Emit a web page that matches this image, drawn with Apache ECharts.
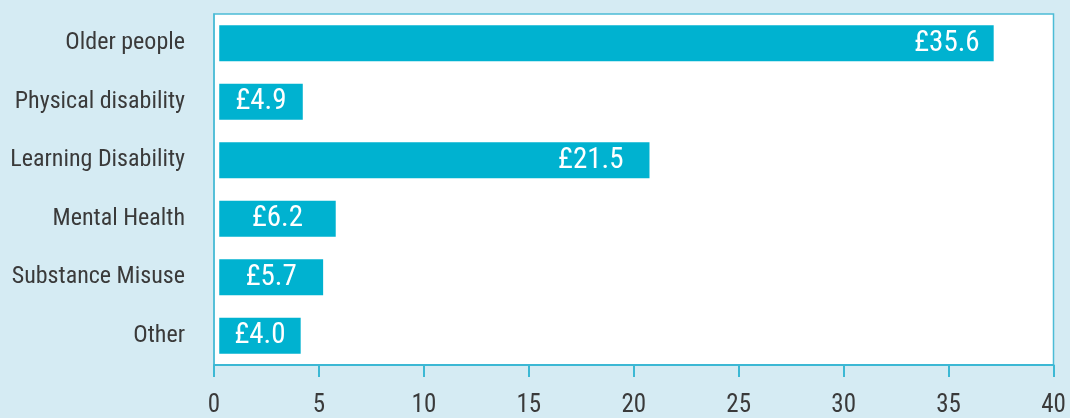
<!DOCTYPE html>
<html>
<head>
<meta charset="utf-8">
<script src="https://cdn.jsdelivr.net/npm/echarts@6/dist/echarts.min.js"></script>
<style>
html,body{margin:0;padding:0;background:#d5ebf3;}
#chart{width:1070px;height:418px;}
</style>
</head>
<body>
<div id="chart"></div>
<script>
// Categories (top to bottom as shown)
const categories = ["Older people", "Physical disability", "Learning Disability", "Mental Health", "Substance Misuse", "Other"];
// Bar lengths as drawn in the picture (axis units)
const barLengths = [36.9, 3.98, 20.5, 5.55, 4.95, 3.88];
// Value labels printed on the bars (£m)
const valueLabels = ["£35.6", "£4.9", "£21.5", "£6.2", "£5.7", "£4.0"];
// X axis ticks
const xTicks = [0, 5, 10, 15, 20, 25, 30, 35, 40];

const FONT = "'Liberation Sans Narrow', 'Roboto Condensed', Roboto, sans-serif";
const BAR_START = 0.25;
const labelDistance = {"Older people": 14, "Learning Disability": 26};

const cats = categories.slice().reverse();
const lens = barLengths.slice().reverse();
const labs = valueLabels.slice().reverse();

const chart = echarts.init(document.getElementById('chart'));
chart.setOption({
  backgroundColor: '#d5ebf3',
  animation: false,
  grid: {
    left: 214, right: 16.5, top: 14, bottom: 50,
    show: true, backgroundColor: '#ffffff', borderColor: '#4cbcd6', borderWidth: 1.5
  },
  xAxis: {
    type: 'value', min: xTicks[0], max: xTicks[xTicks.length - 1], interval: 5,
    axisLine: {show: true, lineStyle: {color: '#3cb8d4', width: 2}},
    axisTick: {show: true, length: 12, lineStyle: {color: '#3cb8d4', width: 2}},
    splitLine: {show: false},
    axisLabel: {fontFamily: FONT, fontSize: 25, color: '#3a3a3a', margin: 28}
  },
  yAxis: {
    type: 'category', data: cats,
    axisLine: {show: true, lineStyle: {color: '#4cbcd6', width: 1.5}},
    axisTick: {show: false},
    axisLabel: {fontFamily: FONT, fontSize: 24, color: '#3a3a3a', margin: 29}
  },
  series: [
    {
      type: 'bar', stack: 'b', silent: true,
      data: cats.map(() => BAR_START),
      itemStyle: {color: 'rgba(0,0,0,0)'},
      barWidth: 36
    },
    {
      type: 'bar', stack: 'b',
      data: lens.map((v, i) => ({
        value: v,
        label: labelDistance[cats[i]] !== undefined
          ? {position: 'insideRight', distance: labelDistance[cats[i]]}
          : {position: 'inside'}
      })),
      barWidth: 36,
      itemStyle: {color: '#00b2d0'},
      label: {
        show: true,
        fontFamily: FONT, fontSize: 29, color: '#ffffff',
        formatter: p => labs[p.dataIndex]
      }
    }
  ]
});
</script>
</body>
</html>
